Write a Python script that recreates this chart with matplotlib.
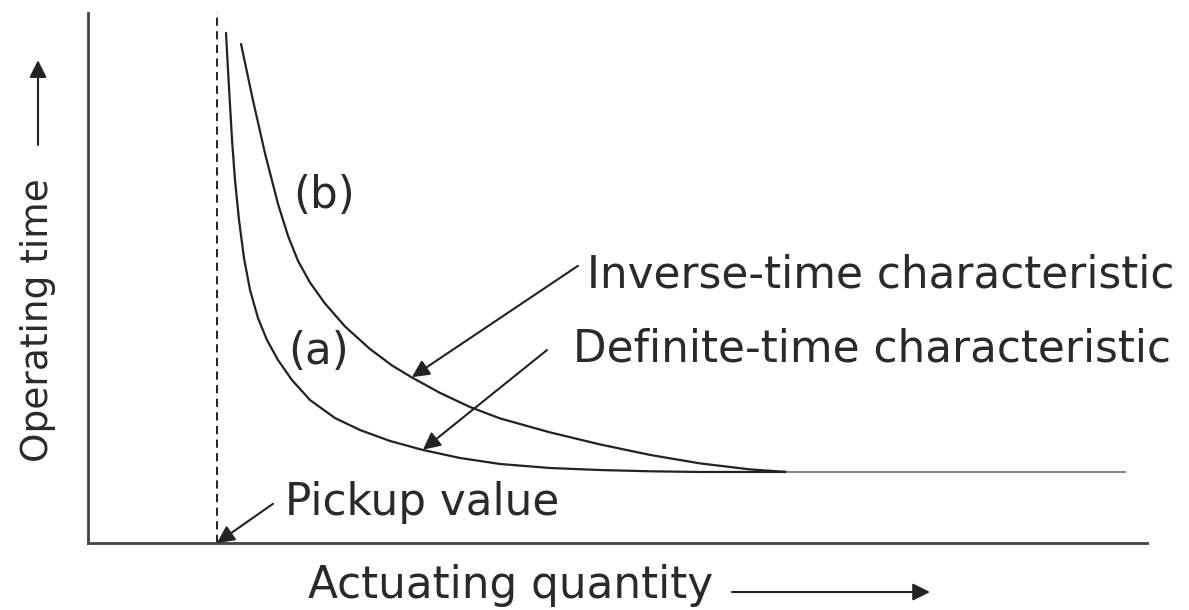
import numpy as np
import matplotlib
matplotlib.use("Agg")
import matplotlib.pyplot as plt

# relay characteristic curves (arbitrary units, 0-100 on both axes)
pickup = 12.18
definite_level = 13.4

curve_a_x = [13.03, 13.22, 13.41, 13.60, 13.88, 14.26, 14.73, 15.30, 16.05, 16.90, 17.94,
             19.26, 20.96, 23.32, 25.68, 28.52, 31.63, 35.13, 38.90, 43.63, 48.35, 53.07,
             57.79, 66.01]
curve_a_y = [96.23, 89.25, 82.64, 76.04, 68.49, 60.94, 53.77, 47.74, 42.45, 38.30, 34.53,
             30.75, 26.98, 23.58, 21.32, 19.25, 17.55, 16.04, 14.91, 14.15, 13.77, 13.53,
             13.40, 13.40]

curve_b_x = [14.45, 15.58, 16.71, 17.94, 18.89, 19.83, 20.96, 22.38, 24.27, 26.63, 28.71,
             30.59, 33.24, 36.07, 38.90, 43.63, 48.35, 53.07, 57.79, 62.51, 66.01]
curve_b_y = [94.15, 83.51, 73.55, 63.98, 57.94, 53.23, 49.15, 45.19, 40.85, 36.60, 33.49,
             31.23, 28.32, 25.66, 23.51, 20.87, 18.60, 16.62, 15.02, 13.89, 13.40]

flat_x = [66.01, 97.92]

plt.rcParams['font.family'] = ['DejaVu Sans']
txt = '#2a2a2a'
line_col = '#222222'

fig = plt.figure(figsize=(11.89, 6.10), dpi=100)
ax = fig.add_axes([88 / 1189, 67 / 610, 1059 / 1189, 530 / 610])
ax.set_xlim(0, 100)
ax.set_ylim(0, 100)
for s in ['top', 'right']:
    ax.spines[s].set_visible(False)
for s in ['left', 'bottom']:
    ax.spines[s].set_color('#444444')
    ax.spines[s].set_linewidth(2.0)
ax.set_xticks([])
ax.set_yticks([])

# pickup line
ax.plot([pickup, pickup], [0, 100.2], color=line_col, lw=1.4,
        linestyle=(0, (4.2, 2.8)), clip_on=False)

# curves
ax.plot(curve_a_x, curve_a_y, color=line_col, lw=1.6,
        solid_capstyle='round', solid_joinstyle='round')
ax.plot(curve_b_x, curve_b_y, color=line_col, lw=1.6,
        solid_capstyle='round', solid_joinstyle='round')
ax.plot(flat_x, [definite_level, definite_level], color='#888888', lw=1.5)

arrow = dict(arrowstyle='-|>', color=line_col, lw=1.5, mutation_scale=26,
             shrinkA=0, shrinkB=0)

ax.annotate('', xy=(30.59, 31.3), xytext=(46.27, 52.3), arrowprops=arrow)
ax.annotate('', xy=(31.63, 17.6), xytext=(43.34, 36.4), arrowprops=arrow)
ax.annotate('', xy=(pickup, 0), xytext=(17.47, 7.4), arrowprops=arrow,
            annotation_clip=False)

fs = 31.5
ax.text(47.10, 48.3, 'Inverse-time characteristic', fontsize=fs, color=txt, va='baseline')
ax.text(45.80, 34.2, 'Definite-time characteristic', fontsize=fs, color=txt, va='baseline')
ax.text(18.60, 5.3, 'Pickup value', fontsize=fs, color=txt, va='baseline')
ax.text(19.36, 65.5, '(b)', fontsize=fs, color=txt, va='center')
ax.text(18.89, 36.2, '(a)', fontsize=fs, color=txt, va='center')

# axis labels with direction arrows
ax.text(20.77, -10.4, 'Actuating quantity', fontsize=fs, color=txt, va='baseline',
        clip_on=False)
ax.annotate('', xy=(79.51, -9.25), xytext=(60.81, -9.25), arrowprops=arrow,
            annotation_clip=False)
ax.text(-4.72, 42.1, 'Operating time', fontsize=27, color=txt, rotation=90,
        ha='center', va='center', clip_on=False)
ax.annotate('', xy=(-4.72, 91.1), xytext=(-4.72, 75.1), arrowprops=arrow,
            annotation_clip=False)

fig.savefig('out.png', dpi=100)
